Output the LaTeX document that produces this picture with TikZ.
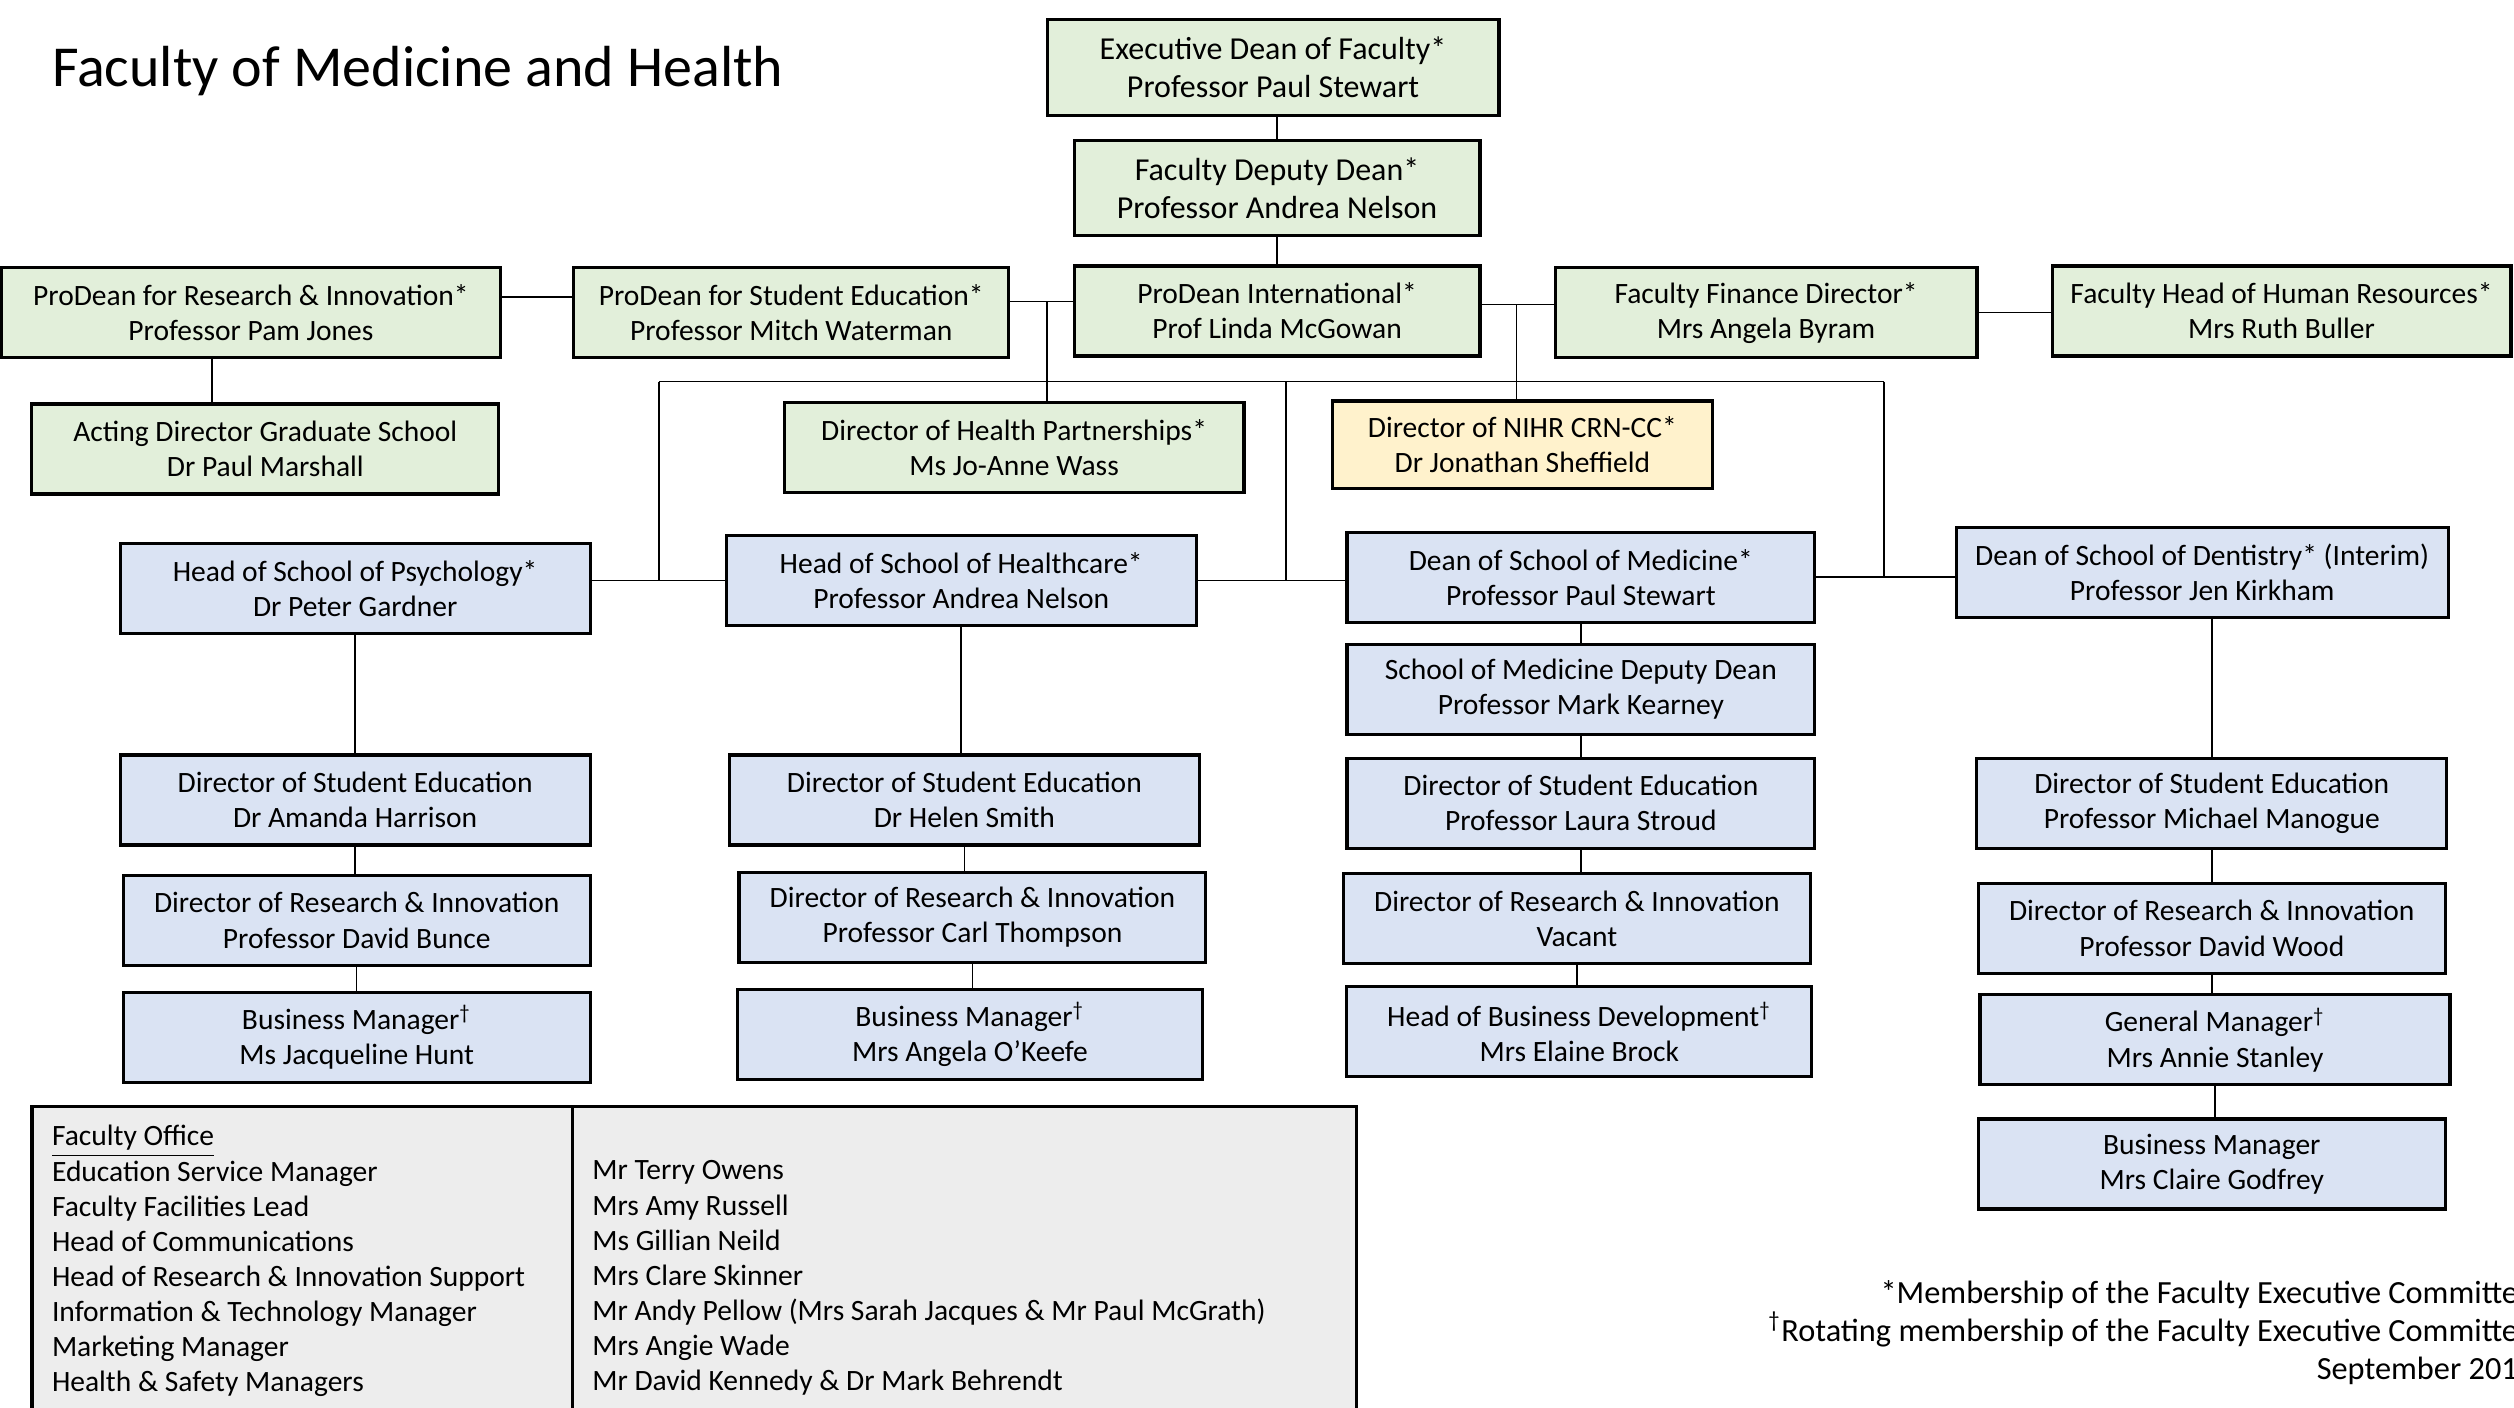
\documentclass[tikz,border=0pt]{standalone}
\usepackage{fontspec}
\setmainfont{Carlito}
\definecolor{facgreen}{HTML}{E2EFDA}
\definecolor{schblue}{HTML}{DAE3F3}
\definecolor{crnyellow}{HTML}{FFF2CC}
\definecolor{officegrey}{HTML}{EDEDED}

\begin{document}
\begin{tikzpicture}[x=0.016033cm,y=-0.016033cm,
	post/.style={draw,line width=0.9pt,align=center,inner sep=0pt,minimum height=0.9cm,font=\fontsize{8.4}{10}\selectfont},
	fac/.style={post,fill=facgreen},
	top/.style={fac,font=\fontsize{9.1}{10.9}\selectfont},
	sch/.style={post,fill=schblue},
	crn/.style={post,fill=crnyellow},
	link/.style={line width=0.4pt}]
	\useasboundingbox (0,0) rectangle (1568,878);
	\node[anchor=base west,inner sep=0pt,font=\fontsize{16.5}{20}\selectfont] (title) at (32,54) {Faculty of Medicine and Health};
	
	\node[top,minimum width=4.52cm,minimum height=0.96cm] (exec) at (794,42) {Executive Dean of Faculty*\\Professor Paul Stewart};
	\node[top,minimum width=4.06cm,minimum height=0.95cm] (deputy) at (796.5,117.5) {Faculty Deputy Dean*\\Professor Andrea Nelson};
	\node[fac,minimum width=4.06cm] (intl) at (796.5,194) {ProDean International*\\Prof Linda McGowan};
	\node[fac,minimum width=5.00cm] (resinn) at (156.5,195) {ProDean for Research \& Innovation*\\Professor Pam Jones};
	\node[fac,minimum width=4.35cm] (studed) at (493.5,195) {ProDean for Student Education*\\Professor Mitch Waterman};
	\node[fac,minimum width=4.22cm] (finance) at (1101.5,195) {Faculty Finance Director*\\Mrs Angela Byram};
	\node[fac,minimum width=4.59cm] (hr) at (1423,194) {Faculty Head of Human Resources*\\Mrs Ruth Buller};
	\node[fac,minimum width=4.67cm] (gradsch) at (165.5,280) {Acting Director Graduate School\\Dr Paul Marshall};
	\node[fac,minimum width=4.60cm] (partner) at (632.5,279) {Director of Health Partnerships*\\Ms Jo-Anne Wass};
	\node[crn,minimum width=3.80cm,minimum height=0.88cm] (nihr) at (949.5,277.5) {Director of NIHR CRN-CC*\\Dr Jonathan Sheffield};
	
	\node[sch,minimum width=4.70cm] (psy) at (221.5,367) {Head of School of Psychology*\\Dr Peter Gardner};
	\node[sch,minimum width=4.70cm] (hc) at (599.5,362) {Head of School of Healthcare*\\Professor Andrea Nelson};
	\node[sch,minimum width=4.68cm] (med) at (986,360) {Dean of School of Medicine*\\Professor Paul Stewart};
	\node[sch,minimum width=4.92cm] (dent) at (1373.5,357) {Dean of School of Dentistry* (Interim)\\Professor Jen Kirkham};
	\node[sch,minimum width=4.68cm] (meddep) at (986,430) {School of Medicine Deputy Dean\\Professor Mark Kearney};
	
	\node[sch,minimum width=4.70cm] (psy-se) at (221.5,499) {Director of Student Education\\Dr Amanda Harrison};
	\node[sch,minimum width=4.70cm] (hc-se) at (601.5,499) {Director of Student Education\\Dr Helen Smith};
	\node[sch,minimum width=4.68cm] (med-se) at (986,501) {Director of Student Education\\Professor Laura Stroud};
	\node[sch,minimum width=4.70cm] (dent-se) at (1379.5,501) {Director of Student Education\\Professor Michael Manogue};
	\node[sch,minimum width=4.67cm] (psy-ri) at (222.5,574) {Director of Research \& Innovation\\Professor David Bunce};
	\node[sch,minimum width=4.67cm] (hc-ri) at (606.5,572) {Director of Research \& Innovation\\Professor Carl Thompson};
	\node[sch,minimum width=4.67cm] (med-ri) at (983.5,573) {Director of Research \& Innovation\\Vacant};
	\node[sch,minimum width=4.67cm] (dent-ri) at (1379.5,579) {Director of Research \& Innovation\\Professor David Wood};
	\node[sch,minimum width=4.67cm] (psy-bm) at (222.5,647) {Business Manager\textsuperscript{†}\\Ms Jacqueline Hunt};
	\node[sch,minimum width=4.65cm] (hc-bm) at (605,645) {Business Manager\textsuperscript{†}\\Mrs Angela O’Keefe};
	\node[sch,minimum width=4.65cm] (med-bd) at (985,643.5) {Head of Business Development\textsuperscript{†}\\Mrs Elaine Brock};
	\node[sch,minimum width=4.70cm] (dent-gm) at (1381.5,648.5) {General Manager\textsuperscript{†}\\Mrs Annie Stanley};
	\node[sch,minimum width=4.67cm] (dent-bm) at (1379.5,726) {Business Manager\\Mrs Claire Godfrey};
	
	\coordinate (rowA) at (653,188);
	\coordinate (rowB) at (946,190);
	\coordinate (busL) at (411,238);
	\coordinate (busM) at (802,238);
	\coordinate (busR) at (1175,238);
	
	\draw[link] (exec.south -| deputy) -- (deputy.north)
		(deputy.south) -- (intl.north)
		([yshift=4.5pt]resinn.east) -- ([yshift=4.5pt]resinn.east -| studed.west)
		([xshift=-0.39cm]resinn.south) -- ([xshift=-0.39cm]resinn.south |- gradsch.north)
		(studed.east |- rowA) -- (rowA -| intl.west)
		(rowA) -- (rowA |- partner.north)
		(intl.east |- rowB) -- (rowB -| finance.west)
		(rowB) -- (rowB |- nihr.north)
		(finance.east) -- (finance.east -| hr.west)
		(busL) -- (busR)
		(busL) -- (busL |- hc.west)
		(busM) -- (busM |- hc.east)
		(busR) -- (busR |- med.east)
		(psy.east |- hc.west) -- (hc.west)
		(hc.east) -- (hc.east -| med.west)
		(med.east) -- (med.east -| dent.west);
	\draw[link] (psy.south) -- (psy.south |- psy-se.north)
		(psy-se.south) -- (psy-se.south |- psy-ri.north)
		(psy-ri.south) -- (psy-ri.south |- psy-bm.north)
		(hc.south) -- (hc.south |- hc-se.north)
		(hc-se.south) -- (hc-se.south |- hc-ri.north)
		(hc-ri.south) -- (hc-ri.south |- hc-bm.north)
		(med.south) -- (meddep.north)
		(meddep.south) -- (med-se.north)
		(med-se.south) -- (med-se.south |- med-ri.north)
		(med-ri.south) -- (med-ri.south |- med-bd.north)
		(dent-se.north) -- (dent-se.north |- dent.south)
		(dent-se.south) -- (dent-se.south |- dent-ri.north)
		(dent-ri.south) -- (dent-ri.south |- dent-gm.north)
		(dent-gm.south) -- (dent-gm.south |- dent-bm.north);
	
	\draw[line width=0.9pt,fill=officegrey] (20,690) rectangle (846,900);
	\draw[line width=0.9pt] (357,690) -- (357,900);
	\node[anchor=north west,align=left,inner sep=0pt,font=\fontsize{8.4}{10}\selectfont] (roles) at (32,701.5) {\underline{Faculty Office}\\Education Service Manager\\Faculty Facilities Lead\\Head of Communications\\Head of Research \& Innovation Support\\Information \& Technology Manager\\Marketing Manager\\Health \& Safety Managers};
	\node[anchor=north west,align=left,inner sep=0pt,font=\fontsize{8.4}{10}\selectfont] (names) at (369,723.5) {Mr Terry Owens\\Mrs Amy Russell\\Ms Gillian Neild\\Mrs Clare Skinner\\Mr Andy Pellow (Mrs Sarah Jacques \& Mr Paul McGrath)\\Mrs Angie Wade\\Mr David Kennedy \& Dr Mark Behrendt};
	
	\node[anchor=north east,align=right,inner sep=0pt,font=\fontsize{9.2}{10.9}\selectfont] (note) at (1581,798) {*Membership of the Faculty Executive Committee\\\textsuperscript{†}Rotating membership of the Faculty Executive Committee\\September 2017};
\end{tikzpicture}
\end{document}
